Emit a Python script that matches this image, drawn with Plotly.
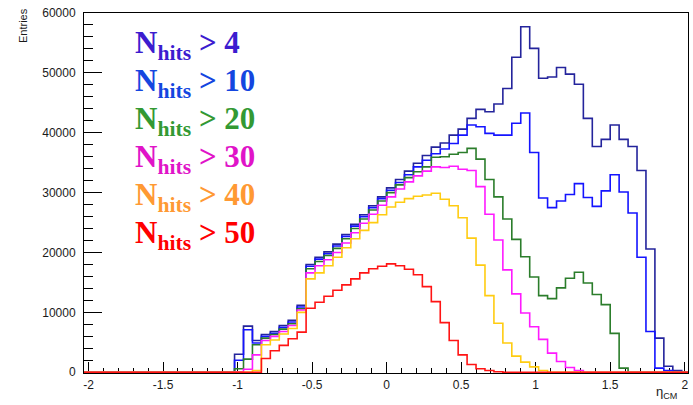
import numpy as np
import plotly.graph_objects as go

# ---------------- data ----------------
bin_width = 0.06
hist_low, hist_high = -2.1, 2.1
first_edge = -1.02   # low edge of the first listed bin

cut_labels = ["4", "10", "20", "30", "40", "50"]

nhits_gt_4 = [3000, 7700, 5300, 6300, 6800, 7800, 8700, 11200, 18000, 19200, 20100, 21400,
              23000, 24700, 26300, 27800, 29300, 30800, 32200, 33600, 34900, 36200, 37600,
              38300, 39600, 40600, 42400, 43900, 43500, 44800, 47400, 52600, 57700, 54100,
              49100, 49300, 50900, 49800, 48100, 42400, 37700, 38900, 41300, 38900, 37700,
              33700, 20600, 5700, 1000, 300]
nhits_gt_10 = [2000, 7100, 4900, 6000, 6500, 7500, 8400, 10900, 17700, 18900, 19800, 21100,
               22700, 24400, 26000, 27500, 29000, 30400, 31700, 33000, 34300, 35400, 36500,
               37300, 38200, 39600, 41300, 41000, 39900, 39600, 39600, 41600, 43300, 36700,
               29100, 27500, 28600, 29700, 31500, 29200, 27700, 30300, 33000, 30100, 26600,
               19200, 6800, 700, 300]
nhits_gt_20 = [600, 2200, 4600, 5700, 6300, 7200, 8100, 10600, 17300, 18500, 19500, 20700,
               22300, 24000, 25600, 27100, 28600, 30000, 31300, 32500, 33500, 34300, 35900,
               36000, 36400, 36700, 37400, 35600, 32200, 29300, 25600, 22200, 19300, 15900,
               12800, 12300, 14100, 15700, 16700, 14900, 13000, 11300, 6500, 700]
nhits_gt_30 = [100, 500, 2900, 5300, 6000, 6800, 7800, 10400, 16600, 17800, 18800, 20000,
               21600, 23300, 24900, 26400, 27900, 29300, 30600, 31800, 32800, 33600, 34300,
               34200, 34400, 33900, 33700, 31000, 26400, 22100, 17100, 13100, 9900, 7600,
               5500, 3200, 1800, 800, 300]
nhits_gt_40 = [0, 0, 300, 4600, 5400, 6400, 7300, 10000, 15600, 16600, 17800, 19200,
               20800, 22300, 23700, 25000, 26300, 27600, 28400, 29000, 29400, 29600, 29900,
               28900, 27800, 25800, 22400, 17900, 12800, 8200, 4900, 2700, 1700, 900, 300]
nhits_gt_50 = [0, 0, 0, 2300, 3600, 4500, 5600, 6700, 10700, 11700, 12700, 13700,
               14600, 15600, 16600, 17300, 17700, 18100, 17800, 17200, 16300, 14300, 11800,
               8300, 5300, 2900, 1300, 600, 300, 100]

series = [nhits_gt_4, nhits_gt_10, nhits_gt_20, nhits_gt_30, nhits_gt_40, nhits_gt_50]

x_tick_vals = [-2, -1.5, -1, -0.5, 0, 0.5, 1, 1.5, 2]
x_tick_text = ["-2", "-1.5", "-1", "-0.5", "0", "0.5", "1", "1.5", "2"]
y_tick_vals = [0, 10000, 20000, 30000, 40000, 50000, 60000]
y_tick_text = ["0", "10000", "20000", "30000", "40000", "50000", "60000"]

# ---------------- style ----------------
line_colors = ["#24249c", "#1414ff", "#2b7d2b", "#ff1aff", "#ffcc11", "#ff1414"]
label_colors = ["#3c1ccf", "#1446e0", "#339933", "#e014c8", "#ff9933", "#ff0000"]

W, H = 693, 405
L, R, T, B = 84, 5, 13, 32
pw, ph = W - L - R, H - T - B

n_bins = int(round((hist_high - hist_low) / bin_width))
edges = hist_low + bin_width * np.arange(n_bins + 1)
start = int(round((first_edge - hist_low) / bin_width))

fig = go.Figure()
for vals, col in zip(series, line_colors):
    full = np.zeros(n_bins)
    full[start:start + len(vals)] = vals
    fig.add_trace(go.Scatter(
        x=edges, y=np.append(full, full[-1]), mode="lines",
        line=dict(shape="hv", color=col, width=1.6),
        showlegend=False, hoverinfo="skip"))

x_range = [-2.03, 2.022]
y_range = [-120, 60000]

fig.update_layout(
    width=W, height=H, margin=dict(l=L, r=R, t=T, b=B),
    paper_bgcolor="white", plot_bgcolor="white",
    font=dict(family="Liberation Sans, Arial, sans-serif", size=12, color="#1a1a1a"),
    xaxis=dict(range=x_range, showgrid=False, zeroline=False,
               showline=True, linecolor="black", linewidth=1, mirror=True,
               tickmode="array", tickvals=x_tick_vals, ticktext=x_tick_text,
               ticks="inside", ticklen=11, tickwidth=1, tickcolor="black",
               minor=dict(tickmode="array", tickvals=list(np.round(np.arange(-2.0, 2.01, 0.1), 2)),
                          ticks="inside", ticklen=5.5, tickwidth=1, tickcolor="black"),
               tickfont=dict(size=12, color="#1a1a1a"), ticklabelstandoff=1,
               layer="below traces"),
    yaxis=dict(range=y_range, showgrid=False, zeroline=False,
               showline=True, linecolor="black", linewidth=1, mirror=True,
               tickmode="array", tickvals=y_tick_vals, ticktext=y_tick_text,
               ticks="inside", ticklen=18, tickwidth=1, tickcolor="black",
               minor=dict(tickmode="array", tickvals=list(range(0, 60001, 2000)),
                          ticks="inside", ticklen=9, tickwidth=1, tickcolor="black"),
               tickfont=dict(size=12, color="#1a1a1a"), ticklabelstandoff=5,
               layer="below traces"),
)

def px_x(p):
    return (p - L) / pw

def px_y(p):
    return (H - B - p) / ph

# legend-like labels
for i, (cut, col) in enumerate(zip(cut_labels, label_colors)):
    fig.add_annotation(
        xref="paper", yref="paper", x=px_x(133), y=px_y(45 + 38 * i),
        xanchor="left", yanchor="middle", showarrow=False,
        text="<b>N<sub>hits</sub> &gt; " + cut + "</b>",
        font=dict(family="Liberation Serif, Times New Roman, serif", size=31, color=col))

# axis titles (ROOT style, at the ends of the axes)
fig.add_annotation(xref="paper", yref="paper", x=px_x(23), y=px_y(26),
                   xanchor="center", yanchor="middle", showarrow=False, textangle=-90,
                   text="Entries", font=dict(size=11, color="#1a1a1a"))
fig.add_annotation(xref="paper", yref="paper", x=px_x(654), y=px_y(392),
                   xanchor="left", yanchor="middle", showarrow=False,
                   text="η<sub>CM</sub>", font=dict(size=13, color="#1a1a1a"))

fig.write_html("out.html")
